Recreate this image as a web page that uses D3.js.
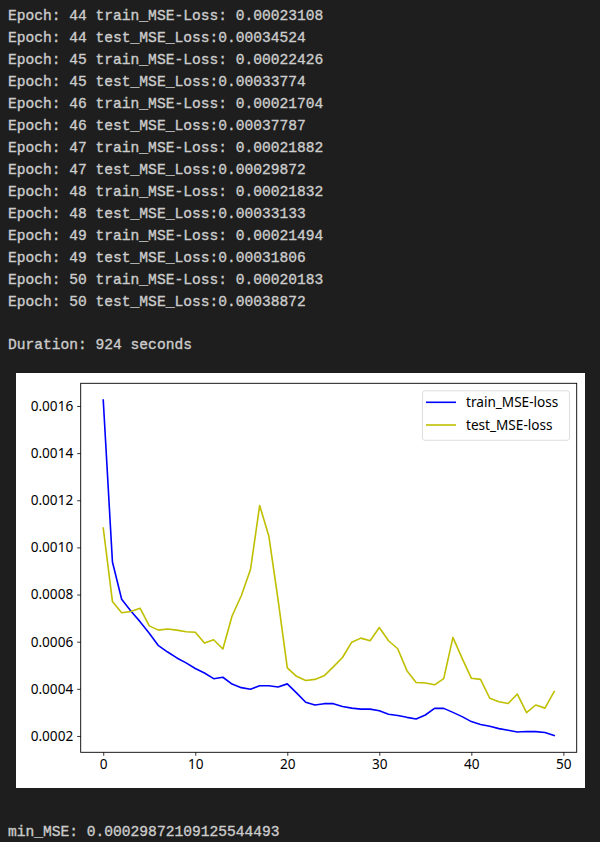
<!DOCTYPE html>
<html>
<head>
<meta charset="utf-8">
<script src="https://cdn.jsdelivr.net/npm/d3@7"></script>
<style>
  html, body { margin: 0; padding: 0; background: #1e1e1e; }
  svg { display: block; }
</style>
</head>
<body>
<svg id="page" width="600" height="842"></svg>
<script>
// ---- data ----
const consoleLines = [
  "Epoch: 44 train_MSE-Loss: 0.00023108",
  "Epoch: 44 test_MSE_Loss:0.00034524",
  "Epoch: 45 train_MSE-Loss: 0.00022426",
  "Epoch: 45 test_MSE_Loss:0.00033774",
  "Epoch: 46 train_MSE-Loss: 0.00021704",
  "Epoch: 46 test_MSE_Loss:0.00037787",
  "Epoch: 47 train_MSE-Loss: 0.00021882",
  "Epoch: 47 test_MSE_Loss:0.00029872",
  "Epoch: 48 train_MSE-Loss: 0.00021832",
  "Epoch: 48 test_MSE_Loss:0.00033133",
  "Epoch: 49 train_MSE-Loss: 0.00021494",
  "Epoch: 49 test_MSE_Loss:0.00031806",
  "Epoch: 50 train_MSE-Loss: 0.00020183",
  "Epoch: 50 test_MSE_Loss:0.00038872"
];
const durationLine = "Duration: 924 seconds";
const minLine = "min_MSE: 0.00029872109125544493";

const seriesNames = ["train_MSE-loss", "test_MSE-loss"];
const trainLoss = [
  0.001625, 0.000938, 0.000780, 0.000730, 0.000685, 0.000636, 0.000583, 0.000556, 0.000531, 0.000510,
  0.000486, 0.000467, 0.000443, 0.000449, 0.000420, 0.000405, 0.000398, 0.000413, 0.000413, 0.000408,
  0.000421, 0.000383, 0.000343, 0.000331, 0.000337, 0.000337, 0.000325, 0.000318, 0.000314, 0.000314,
  0.000307, 0.000292, 0.000287, 0.000279, 0.000272, 0.000289, 0.000317, 0.000317, 0.000300, 0.000282,
  0.000261, 0.000249, 0.000241, 0.00023108, 0.00022426, 0.00021704, 0.00021882, 0.00021832, 0.00021494, 0.00020183
];
const testLoss = [
  0.001082, 0.000770, 0.000723, 0.000728, 0.000742, 0.000667, 0.000649, 0.000654, 0.000649, 0.000642,
  0.000640, 0.000594, 0.000608, 0.000569, 0.000709, 0.000795, 0.000906, 0.001178, 0.001047, 0.000777,
  0.000489, 0.000453, 0.000435, 0.000440, 0.000455, 0.000493, 0.000533, 0.000598, 0.000615, 0.000604,
  0.000660, 0.000604, 0.000570, 0.000477, 0.000427, 0.000425, 0.000417, 0.000443, 0.000618, 0.000529,
  0.000445, 0.000440, 0.000360, 0.00034524, 0.00033774, 0.00037787, 0.00029872, 0.00033133, 0.00031806, 0.00038872
];
const xTicks = [0, 10, 20, 30, 40, 50];
const yTicks = [0.0002, 0.0004, 0.0006, 0.0008, 0.0010, 0.0012, 0.0014, 0.0016];
const seriesColors = ["#0000ff", "#bfbf00"];

// ---- page ----
const svg = d3.select("#page");
const mono = "'Liberation Mono', 'DejaVu Sans Mono', monospace";
const txtColor = "#cccccc";

function consoleText(sel) {
  sel.attr("font-family", mono)
    .attr("font-size", 14.6)
    .attr("fill", txtColor)
    .attr("stroke", txtColor)
    .attr("stroke-width", 0.35)
    .style("white-space", "pre");
}

svg.append("g").selectAll("text").data(consoleLines).join("text")
  .attr("x", 8)
  .attr("y", (d, i) => 20 + i * 22)
  .call(consoleText)
  .text(d => d);

svg.append("text").attr("x", 8).attr("y", 349).call(consoleText).text(durationLine);
svg.append("text").attr("x", 8).attr("y", 836).call(consoleText).text(minLine);

// ---- figure ----
svg.append("rect")
  .attr("x", 16).attr("y", 373)
  .attr("width", 569).attr("height", 415)
  .attr("fill", "#ffffff");

const plot = { left: 80.7, right: 576.7, top: 383.3, bottom: 752.3 };
const n = trainLoss.length;
const allVals = trainLoss.concat(testLoss);
const yMin = d3.min(allVals), yMax = d3.max(allVals);
const yPad = (yMax - yMin) * 0.05;
const xPad = (n - 1) * 0.05;

const x = d3.scaleLinear().domain([-xPad, n - 1 + xPad]).range([plot.left, plot.right]);
const y = d3.scaleLinear().domain([yMin - yPad, yMax + yPad]).range([plot.bottom, plot.top]);

const tickFont = "'Noto Sans', 'Open Sans', sans-serif";

const gx = svg.append("g")
  .attr("transform", `translate(0,${plot.bottom})`)
  .call(d3.axisBottom(x).tickValues(xTicks).tickSize(3.5).tickPadding(4).tickFormat(d3.format("d")));
const gy = svg.append("g")
  .attr("transform", `translate(${plot.left},0)`)
  .call(d3.axisLeft(y).tickValues(yTicks).tickSize(3.5).tickPadding(4).tickFormat(d3.format(".4f")));

[gx, gy].forEach(g => {
  g.select(".domain").remove();
  g.selectAll(".tick line").attr("stroke", "#000").attr("stroke-width", 0.8);
  g.selectAll(".tick text")
    .attr("fill", "#000")
    .attr("font-family", tickFont)
    .attr("font-size", 13.6);
});

// lines
const line = d3.line().x((d, i) => x(i)).y(d => y(d));
[trainLoss, testLoss].forEach((s, k) => {
  svg.append("path")
    .datum(s)
    .attr("d", line)
    .attr("fill", "none")
    .attr("stroke", seriesColors[k])
    .attr("stroke-width", 1.6)
    .attr("stroke-linejoin", "round")
    .attr("stroke-linecap", "square");
});

// spines
svg.append("rect")
  .attr("x", plot.left).attr("y", plot.top)
  .attr("width", plot.right - plot.left).attr("height", plot.bottom - plot.top)
  .attr("fill", "none").attr("stroke", "#000").attr("stroke-width", 0.9);

// legend
const lg = svg.append("g");
lg.append("rect")
  .attr("x", 422.5).attr("y", 390.8)
  .attr("width", 147).attr("height", 49.5)
  .attr("rx", 2.5)
  .attr("fill", "#ffffff").attr("fill-opacity", 0.8)
  .attr("stroke", "#d9d9d9").attr("stroke-width", 0.9);
seriesNames.forEach((name, k) => {
  const cy = 402.3 + k * 22.7;
  lg.append("line")
    .attr("x1", 426).attr("x2", 456)
    .attr("y1", cy).attr("y2", cy)
    .attr("stroke", seriesColors[k]).attr("stroke-width", 1.6);
  lg.append("text")
    .attr("x", 466).attr("y", cy)
    .attr("dy", "0.35em")
    .attr("font-family", tickFont)
    .attr("font-size", 13.6)
    .attr("fill", "#000")
    .text(name);
});
</script>
</body>
</html>
